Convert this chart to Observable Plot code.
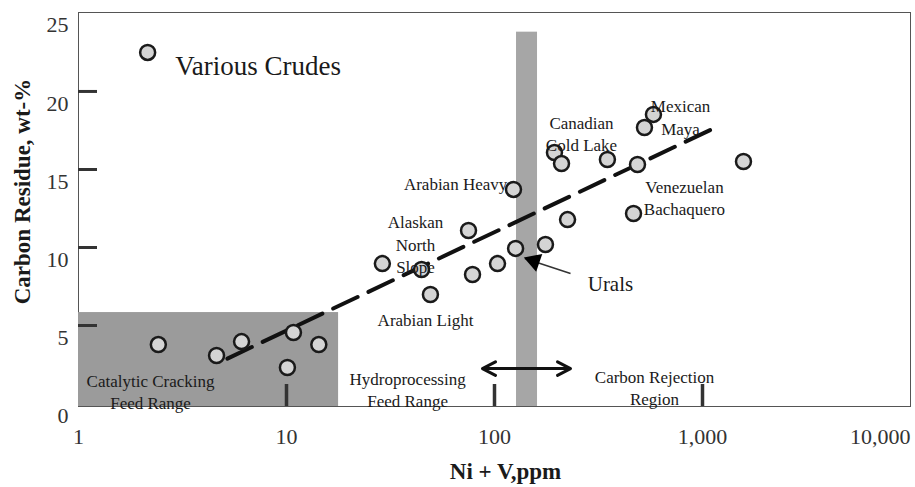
<!DOCTYPE html>
<html><head><meta charset="utf-8">
<script src="https://cdn.jsdelivr.net/npm/d3@7"></script>
<script src="https://cdn.jsdelivr.net/npm/@observablehq/plot@0.6"></script>
<style>
body{margin:0;background:#fff;}
#chart svg{display:block;}
</style></head><body><div id="chart"></div>
<script>
// Crude oils: Ni + V (ppm) vs carbon residue (wt-%)
const crudeNiV = [2.42, 4.61, 6.08, 10.8, 10.1, 14.3, 28.9, 44.6, 49.2, 75, 78.4, 103.4,
  123.4, 126.3, 175.8, 224.5, 194.2, 210, 349, 487, 466, 526, 581, 1574];
const crudeResidue = [3.78, 3.08, 3.97, 4.55, 2.31, 3.78, 8.97, 8.59, 6.99, 11.09, 8.27, 8.97,
  13.72, 9.94, 10.19, 11.79, 16.09, 15.38, 15.64, 15.32, 12.18, 17.69, 18.53, 15.51];
const legendNiV = [2.15];
const legendResidue = [22.5];
const trendNiV = [5.2, 1130];
const trendResidue = [2.88, 17.63];
// shaded ranges
const zoneNiV1 = [1, 127.6];
const zoneNiV2 = [17.8, 161];
const zoneResidueTop = [5.83, 23.8];
// ticks
const xTickValues = [1, 10, 100, 1000];
const xLastTick = [10000];
const xMarkTicks = [10, 100, 1000];
const yTickValues = [0, 5, 10, 15, 20, 25];
const yMarkTicks = [5, 10, 15, 20];
// annotations
const annoText = ["Various Crudes", "Arabian Heavy", "Alaskan\nNorth\nSlope", "Arabian Light",
  "Canadian\nCold Lake", "Mexican\nMaya", "Venezuelan\nBachaquero", "Urals",
  "Catalytic Cracking\nFeed Range", "Hydroprocessing\nFeed Range", "Carbon Rejection\nRegion"];
const annoNiV = [7.3, 65, 41.7, 46.6, 262, 784, 819, 361, 2.22, 38.2, 588];
const annoResidue = [21.8, 14.17, 10.26, 5.45, 17.37, 18.4, 13.27, 7.76, 0.83, 0.93, 1.09];
const uralsArrowNiV = [232, 140];
const uralsArrowResidue = [8.33, 9.3];
const uralsHeadNiV = [155];
const uralsHeadResidue = [9.13];
const rangeArrowNiV = [142.5, 87.5, 232];
const rangeArrowResidue = [2.24];

const yMin = -0.19, yMax = 25.06;
const crudes = crudeNiV.map((x, i) => ({x, y: crudeResidue[i]}));
const legend = legendNiV.map((x, i) => ({x, y: legendResidue[i]}));
const trend = trendNiV.map((x, i) => ({x, y: trendResidue[i]}));
const zones = zoneNiV1.map((x1, i) => ({x1, x2: zoneNiV2[i], y1: yMin, y2: zoneResidueTop[i], fill: i === 0 ? "#9b9b9b" : "#a6a6a6"}));
const annos = annoText.map((text, i) => ({text, x: annoNiV[i], y: annoResidue[i]}));
const rangeArrows = [
  {x1: rangeArrowNiV[0], x2: rangeArrowNiV[1], y: rangeArrowResidue[0]},
  {x1: rangeArrowNiV[0], x2: rangeArrowNiV[2], y: rangeArrowResidue[0]}
];
const serif = "'Liberation Serif', 'Times New Roman', serif";
const fmt = d3.format(",");

const plot = Plot.plot({
  width: 915, height: 487,
  marginLeft: 78, marginRight: 5, marginTop: 12, marginBottom: 81,
  style: {fontFamily: serif, background: "#fff", color: "#222"},
  x: {type: "log", domain: [1, 10000]},
  y: {domain: [yMin, yMax]},
  marks: [
    Plot.frame({stroke: "#555", strokeWidth: 1}),
    Plot.rect(zones, {x1: "x1", x2: "x2", y1: "y1", y2: "y2", fill: "fill"}),
    Plot.axisY({ticks: yTickValues, tickSize: 0, tickPadding: 10, dy: 12, fontSize: 22, fill: "#333", label: null}),
    Plot.axisY({ticks: yMarkTicks, tickSize: 19, dx: 19, strokeWidth: 3, stroke: "#333", fill: "none", label: null}),
    Plot.axisX({ticks: xTickValues, tickFormat: fmt, tickSize: 0, tickPadding: 22, fontSize: 22, fill: "#333", label: null}),
    Plot.axisX({ticks: xLastTick, tickFormat: fmt, tickSize: 0, tickPadding: 22, fontSize: 22, fill: "#333", textAnchor: "end", label: null}),
    Plot.axisX({ticks: xMarkTicks, tickSize: 22, dy: -22, strokeWidth: 3.5, stroke: "#333", fill: "none", label: null}),
    Plot.line(trend, {x: "x", y: "y", stroke: "#111", strokeWidth: 4, strokeDasharray: "27,12"}),
    Plot.dot(crudes, {x: "x", y: "y", r: 7.5, fill: "#d4d4d4", stroke: "#1a1a1a", strokeWidth: 2.5}),
    Plot.dot(legend, {x: "x", y: "y", r: 7.5, fill: "#d4d4d4", stroke: "#1a1a1a", strokeWidth: 2.5}),
    Plot.link([0], {x1: () => uralsArrowNiV[0], y1: () => uralsArrowResidue[0], x2: () => uralsArrowNiV[1], y2: () => uralsArrowResidue[1], stroke: "#333", strokeWidth: 1.5}),
    Plot.dot([0], {x: () => uralsHeadNiV[0], y: () => uralsHeadResidue[0], symbol: "triangle", r: 7, rotate: -71, fill: "#000", stroke: "none"}),
    Plot.arrow(rangeArrows, {x1: "x1", x2: "x2", y1: "y", y2: "y", stroke: "#111", strokeWidth: 3, headLength: 15, headAngle: 55}),
    Plot.text(annos, {x: "x", y: "y", text: "text", fill: "#1a1a1a", lineHeight: 1.3,
      fontSize: d => d.text === "Various Crudes" ? 27 : d.text === "Urals" ? 21 : 17}),
    Plot.text(["Carbon Residue, wt-%"], {frameAnchor: "left", textAnchor: "middle", lineAnchor: "middle", dx: -56, dy: -18, rotate: -90, fontSize: 23, fontWeight: "bold", fill: "#1a1a1a"}),
    Plot.text(["Ni + V,ppm"], {frameAnchor: "bottom", textAnchor: "middle", lineAnchor: "middle", dx: 11, dy: 65, fontSize: 23, fontWeight: "bold", fill: "#1a1a1a"})
  ]
});
document.getElementById("chart").appendChild(plot);
</script>
</body></html>
